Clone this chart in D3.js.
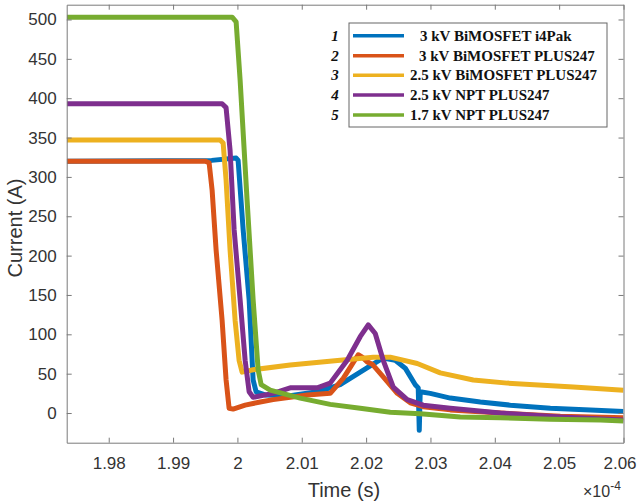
<!DOCTYPE html>
<html>
<head>
<meta charset="utf-8">
<script src="https://cdn.jsdelivr.net/npm/d3@7"></script>
<style>
  body { margin: 0; background: #fff; }
  svg { display: block; }
</style>
</head>
<body>
<div id="chart"></div>
<script>
// time in units of 1e-4 s, current in A
const xTicks = [1.98, 1.99, 2.00, 2.01, 2.02, 2.03, 2.04, 2.05, 2.06];
const yTicks = [0, 50, 100, 150, 200, 250, 300, 350, 400, 450, 500];

const legendNums = ['1', '2', '3', '4', '5'];
const legendLabels = ['3 kV BiMOSFET i4Pak', '3 kV BiMOSFET PLUS247', '2.5 kV BiMOSFET PLUS247',
                      '2.5 kV NPT PLUS247', '1.7 kV NPT PLUS247'];
const colors = ['#0072BD', '#D95319', '#EDB120', '#7E2F8E', '#77AC30'];

const bimosI4pak = [
  [1.9735, 320], [1.9960, 321], [1.9998, 324], [2.00011, 321], [2.00089, 233], [2.00182, 144], [2.00244, 42],
  [2.00291, 27], [2.00431, 23], [2.0082, 22], [2.0124, 27], [2.01597, 36], [2.01753, 44],
  [2.02064, 60], [2.02266, 70], [2.02453, 67], [2.02608, 57], [2.02764, 36], [2.0281, 32],
  [2.02826, -22], [2.02841, 27], [2.02997, 25], [2.03308, 19], [2.03775, 14], [2.04241, 10],
  [2.04863, 6], [2.05485, 4], [2.0600, 2]
];
const bimosPlus = [
  [1.9735, 320], [1.99498, 320], [1.9956, 318], [1.99607, 283], [1.99669, 207], [1.99762, 118],
  [1.99824, 42], [1.99871, 6], [1.99933, 5], [2.0012, 10], [2.00353, 14], [2.00555, 17],
  [2.01084, 23], [2.01442, 25], [2.01644, 44], [2.01753, 58], [2.01877, 74], [2.0194, 71],
  [2.02017, 65], [2.02095, 62], [2.02266, 46], [2.02484, 25], [2.02686, 13], [2.02888, 8],
  [2.03308, 4], [2.04086, 0], [2.05019, -4], [2.0600, -6]
];
const bimos25Plus = [
  [1.9735, 347], [1.99731, 347], [1.99778, 343], [1.99824, 296], [1.99886, 207], [1.99964, 118],
  [2.00026, 67], [2.00073, 52], [2.00244, 55], [2.0082, 61], [2.01597, 67], [2.02111, 71],
  [2.02375, 71], [2.02795, 63], [2.03152, 51], [2.03665, 42], [2.04194, 38], [2.05221, 33],
  [2.0600, 29]
];
const npt25Plus = [
  [1.9735, 393], [1.99762, 393], [1.99824, 388], [1.99886, 334], [1.99949, 233], [2.00042, 144],
  [2.0012, 67], [2.00182, 27], [2.00244, 20], [2.00555, 25], [2.0082, 32], [2.0124, 32],
  [2.01442, 38], [2.01706, 67], [2.01908, 97], [2.02033, 112], [2.02142, 101], [2.02266, 67],
  [2.02422, 33], [2.02639, 17], [2.02888, 10], [2.03308, 6], [2.04086, 0], [2.05019, -5],
  [2.0600, -9]
];
const npt17Plus = [
  [1.9735, 503], [1.99918, 503], [1.9998, 497], [2.00042, 423], [2.0015, 271], [2.00244, 144],
  [2.00322, 55], [2.00369, 36], [2.00509, 29], [2.00975, 19], [2.01442, 11], [2.01908, 6],
  [2.02375, 1], [2.02841, -1], [2.03463, -5], [2.04086, -6], [2.04863, -8], [2.05641, -9],
  [2.0600, -10]
];
const seriesList = [bimosI4pak, bimosPlus, bimos25Plus, npt25Plus, npt17Plus];

const W = 639, H = 502;
const PLOT_LEFT = 66.7, PLOT_RIGHT = 623.5, PLOT_TOP = 4.7, PLOT_BOTTOM = 442.7;
const AXIS_COLOR = '#7a7a7a';
const TEXT_COLOR = '#333';
const TICK_FONT = '17px "Liberation Sans", Arial, sans-serif';
const LABEL_FONT = '20px "Liberation Sans", Arial, sans-serif';
const TRACE_WIDTH = 5;

const svg = d3.select('#chart').append('svg')
  .attr('width', W)
  .attr('height', H);

const xScale = d3.scaleLinear()
  .domain([1.97347, 2.0600])
  .range([PLOT_LEFT, PLOT_RIGHT]);
const yScale = d3.scaleLinear()
  .domain([-37.7, 518.8])
  .range([PLOT_BOTTOM, PLOT_TOP]);

// clip traces to the axes box
svg.append('defs').append('clipPath').attr('id', 'plotClip')
  .append('rect')
  .attr('x', PLOT_LEFT).attr('y', PLOT_TOP)
  .attr('width', PLOT_RIGHT - PLOT_LEFT).attr('height', PLOT_BOTTOM - PLOT_TOP);

const line = d3.line()
  .x(d => xScale(d[0]))
  .y(d => yScale(d[1]));

svg.append('g').attr('clip-path', 'url(#plotClip)')
  .selectAll('path')
  .data(seriesList)
  .join('path')
  .attr('d', line)
  .attr('fill', 'none')
  .attr('stroke', (d, i) => colors[i])
  .attr('stroke-width', TRACE_WIDTH)
  .attr('stroke-linejoin', 'round');

//------------------------------ AXES (MATLAB box, ticks inside) ------------------------------
const fmtX = d => d3.format('.2f')(d).replace(/\.?0+$/, '');

const xAxis = svg.append('g')
  .attr('transform', `translate(0,${PLOT_BOTTOM})`)
  .call(d3.axisBottom(xScale).tickValues(xTicks).tickFormat(fmtX).tickSizeInner(-5).tickSizeOuter(0).tickPadding(14));
const xTop = svg.append('g')
  .attr('transform', `translate(0,${PLOT_TOP})`)
  .call(d3.axisTop(xScale).tickValues(xTicks).tickFormat('').tickSizeInner(-5).tickSizeOuter(0));
const yAxis = svg.append('g')
  .attr('transform', `translate(${PLOT_LEFT},0)`)
  .call(d3.axisLeft(yScale).tickValues(yTicks).tickSizeInner(-5).tickSizeOuter(0).tickPadding(10));
const yRight = svg.append('g')
  .attr('transform', `translate(${PLOT_RIGHT},0)`)
  .call(d3.axisRight(yScale).tickValues(yTicks).tickFormat('').tickSizeInner(-5).tickSizeOuter(0));

[xAxis, xTop, yAxis, yRight].forEach(g => {
  g.select('.domain').attr('stroke', AXIS_COLOR);
  g.selectAll('.tick line').attr('stroke', AXIS_COLOR);
  g.selectAll('.tick text').attr('fill', TEXT_COLOR).style('font', TICK_FONT);
});
// last label sits at the window edge, nudge it in
xAxis.selectAll('.tick text').filter(d => d === 2.06).attr('dx', -4);

svg.append('text')
  .attr('x', 344).attr('y', 497)
  .attr('text-anchor', 'middle')
  .attr('fill', TEXT_COLOR)
  .style('font', LABEL_FONT)
  .text('Time (s)');

svg.append('text')
  .attr('transform', 'translate(22,228) rotate(-90)')
  .attr('text-anchor', 'middle')
  .attr('fill', TEXT_COLOR)
  .style('font', LABEL_FONT)
  .text('Current (A)');

const expo = svg.append('text')
  .attr('x', 583).attr('y', 497)
  .attr('fill', TEXT_COLOR)
  .style('font', '16px "Liberation Sans", Arial, sans-serif');
expo.append('tspan').text('\u00d710');
expo.append('tspan').attr('dy', -7).style('font-size', '12px').text('-4');

//------------------------------ LEGEND ------------------------------
const LEG_X = 349, LEG_Y = 23, LEG_W = 258, LEG_H = 104;
const rowY = [35.7, 55.7, 75.3, 95, 115];
const textX = [420, 419, 410, 410, 410];

svg.append('rect')
  .attr('x', LEG_X).attr('y', LEG_Y)
  .attr('width', LEG_W).attr('height', LEG_H)
  .attr('fill', '#fff')
  .attr('stroke', '#666')
  .attr('stroke-width', 1);

const rows = svg.append('g').selectAll('g')
  .data(legendLabels)
  .join('g');

rows.append('line')
  .attr('x1', 353).attr('x2', 404)
  .attr('y1', (d, i) => rowY[i]).attr('y2', (d, i) => rowY[i])
  .attr('stroke', (d, i) => colors[i])
  .attr('stroke-width', 3.5);

rows.append('text')
  .attr('x', (d, i) => textX[i])
  .attr('y', (d, i) => rowY[i] + 5)
  .style('font', 'bold 15px "Liberation Serif", "Times New Roman", serif')
  .attr('fill', '#111')
  .text(d => d);

rows.append('text')
  .attr('x', 335)
  .attr('y', (d, i) => rowY[i] + 5)
  .attr('text-anchor', 'middle')
  .style('font', 'italic bold 15px "Liberation Serif", "Times New Roman", serif')
  .attr('fill', '#111')
  .text((d, i) => legendNums[i]);
</script>
</body>
</html>
